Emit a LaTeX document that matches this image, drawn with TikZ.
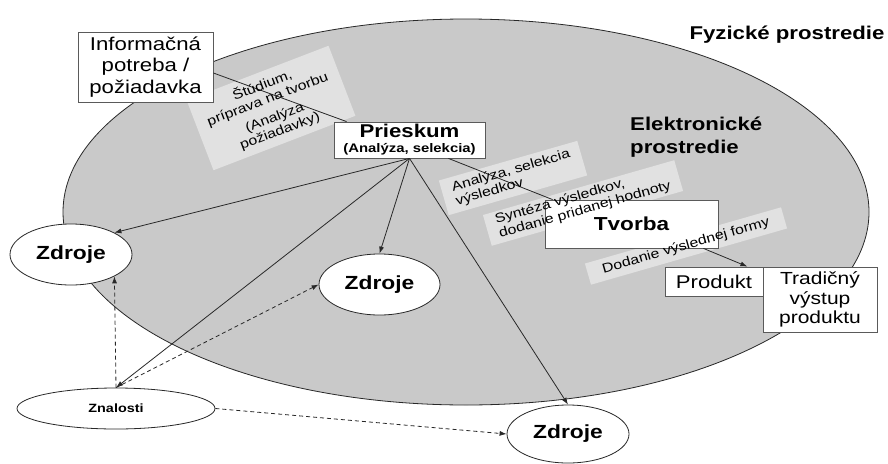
\documentclass[tikz,border=0pt]{standalone}
\usepackage{fontspec}
\setmainfont[FakeStretch=1.2]{Liberation Sans}
\usetikzlibrary{arrows.meta,calc,shapes.geometric}
\definecolor{envgray}{RGB}{201,201,201}
\definecolor{labgray}{RGB}{225,225,225}
\definecolor{edgecol}{RGB}{40,40,40}
\definecolor{boxedge}{RGB}{90,90,90}
\newcommand{\fsz}[2]{\fontsize{#1}{#2}\selectfont}
\begin{document}
\begin{tikzpicture}[x=1pt,y=-1pt,
 box/.style={draw=boxedge, fill=white, line width=0.8pt, align=center, inner sep=0pt, text=black},
 srcell/.style={ellipse, draw=edgecol, fill=white, line width=0.8pt, inner sep=0pt},
 labbg/.style={fill=labgray, inner sep=0pt},
 labtxt/.style={align=left, font=\fsz{13.2}{14.5}, inner sep=0pt},
 conn/.style={draw=edgecol, line width=0.8pt},
 arr/.style={conn, -{Latex[length=7pt,width=5pt]}},
 darr/.style={arr, dash pattern=on 4pt off 3pt},
]
\useasboundingbox (0,0) rectangle (888,463);
\fill[white] (0,0) rectangle (888,463);
\draw[fill=envgray, draw=edgecol, line width=0.8pt] (466,212) ellipse [x radius=403, y radius=193];

% label backgrounds
\node[labbg, rotate=21, minimum width=152, minimum height=75] (l1) at (271,108) {};
\node[labbg, rotate=16, minimum width=144, minimum height=36] (l2) at (513,178) {};
\node[labbg, rotate=16, minimum width=199, minimum height=32] (l3) at (583,203) {};
\node[labbg, rotate=16, minimum width=204, minimum height=22] (l4) at (686,246) {};

% main nodes
\node[box, minimum width=135, minimum height=70, font=\fsz{18.5}{21.5}] (need) at (145.5,67) {Informačná\\potreba /\\požiadavka};
\node[box, minimum width=151, minimum height=36, font=\fsz{12.4}{15}] (pr) at (409.5,140) {{\fsz{18.5}{15}\bfseries Prieskum}\\{\bfseries (Analýza, selekcia)}};
\node[box, minimum width=173, minimum height=48, font=\fsz{18.8}{22}\bfseries] (tv) at (631.5,224) {Tvorba};
\node[box, minimum width=98, minimum height=29, font=\fsz{18.4}{22}] (prod) at (714,281.5) {Produkt};
\node[box, minimum width=114, minimum height=65, font=\fsz{17.5}{19.5}] (trad) at (820,299.5) {Tradičný\\výstup\\produktu};

\node[srcell, minimum width=122, minimum height=61, font=\fsz{19}{22}\bfseries] (z1) at (71,254.5) {Zdroje};
\node[srcell, minimum width=121, minimum height=61, font=\fsz{19}{22}\bfseries] (z2) at (379.5,284.5) {Zdroje};
\node[srcell, minimum width=122, minimum height=58, font=\fsz{19}{22}\bfseries] (z3) at (568,434) {Zdroje};
\node[srcell, minimum width=198, minimum height=41, font=\fsz{12}{14}\bfseries] (kn) at (116,408.5) {Znalosti};

% connectors
\draw[conn] ($(need.east)+(0,6)$) -- ($(pr.north west)+(13,0)$);
\draw[conn] ($(pr.south east)+(-37,0)$) -- ($(tv.north west)+(8,0)$);
\draw[arr] ($(tv.south east)+(-15,0)$) -- ($(prod.north east)+(-16,0)$);
\draw[arr] (pr.south) -- (z1.north east);
\draw[arr] (pr.south) -- (z2.north);
\draw[arr] (pr.south) -- (z3.north);
\draw[arr] (pr.south) -- (kn.north);
\draw[darr] (kn.north) -- (z1.south east);
\draw[darr] (kn.north) -- (z2.west);
\draw[darr] (kn.east) -- (z3.west);

% label texts
\node[labtxt, rotate=21, align=center] (t1) at (l1) {Štúdium,\\príprava na tvorbu\\[5pt](Analýza\\požiadavky)};
\node[labtxt, rotate=16] (t2) at (l2) {Analýza, selekcia\\výsledkov};
\node[labtxt, rotate=16] (t3) at (l3) {Syntéza výsledkov,\\dodanie pridanej hodnoty};
\node[labtxt, rotate=16] (t4) at (l4) {Dodanie výslednej formy};

% titles
\node[font=\fsz{18.5}{22}\bfseries, inner sep=0pt] (phys) at (787,35) {Fyzické prostredie};
\node[font=\fsz{18.5}{23}\bfseries, align=left, anchor=west, inner sep=0pt] (elec) at (630,137) {Elektronické\\prostredie};
\end{tikzpicture}
\end{document}
